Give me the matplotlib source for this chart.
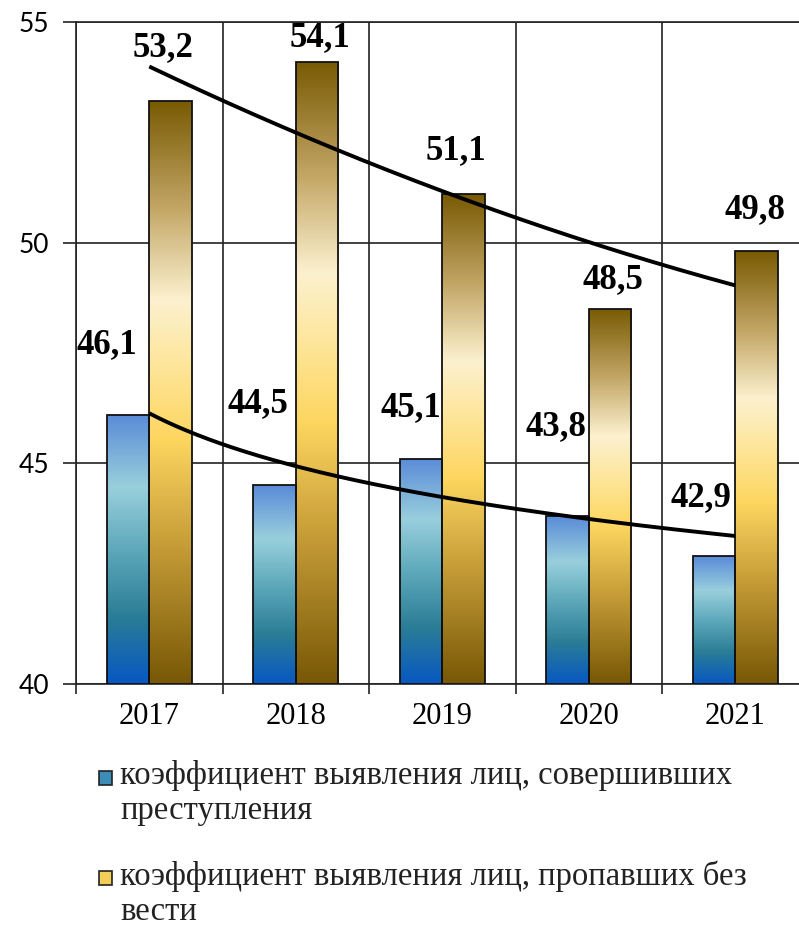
import numpy as np
import matplotlib
matplotlib.use('Agg')
import matplotlib.pyplot as plt
from matplotlib.colors import LinearSegmentedColormap
from matplotlib.patches import Rectangle

years = ['2017', '2018', '2019', '2020', '2021']
crimes = [46.1, 44.5, 45.1, 43.8, 42.9]
missing = [53.2, 54.1, 51.1, 48.5, 49.8]
legend_labels = ['коэффициент выявления лиц, совершивших\nпреступления',
                 'коэффициент выявления лиц, пропавших без\nвести']

# label offsets in pixels (dx, dy) from the bar top, picked by eye
crimes_off = [(-21, -70), (-17, -82), (-10, -51), (-12, -90), (-13, -58)]
missing_off = [(-7, -54), (3, -24), (-8, -44), (3, -29), (-2, -42)]

blue_cmap = LinearSegmentedColormap.from_list('blue', [
    (0.0, '#0758c2'), (0.25, '#2b7d96'), (0.5, '#5ea9bb'),
    (0.73, '#99cfdc'), (1.0, '#5a8bd8')])
gold_cmap = LinearSegmentedColormap.from_list('gold', [
    (0.0, '#785806'), (0.25, '#caa03a'), (0.42, '#fdd660'),
    (0.55, '#fee69c'), (0.66, '#fcf1cf'), (0.82, '#c2a564'), (1.0, '#795a04')])

serif = ['Liberation Serif', 'DejaVu Serif']


def gradient_bar(ax, x, w, top, cmap, bottom=40):
    rect = Rectangle((x, bottom), w, top - bottom, facecolor='none',
                     edgecolor='#111111', lw=1.3, zorder=4)
    ax.add_patch(rect)
    grad = np.linspace(0, 1, 256).reshape(-1, 1)
    im = ax.imshow(grad, cmap=cmap, origin='lower', aspect='auto',
                   extent=[x, x + w, bottom, top], zorder=3, interpolation='bicubic')
    im.set_clip_path(rect)
    return rect


fig = plt.figure(figsize=(7.99, 9.26), dpi=100)
ax = fig.add_axes([76 / 799, (926 - 684) / 926, 732.5 / 799, 662 / 926])

idx = np.arange(len(years))
vidd = 0.29
for i in idx:
    gradient_bar(ax, i - vidd, vidd, crimes[i], blue_cmap)
    gradient_bar(ax, i, vidd, missing[i], gold_cmap)

# trend lines
xs = np.linspace(0, 4, 200)
coef_up = np.polyfit(idx, missing, 2)
ax.plot(xs, np.polyval(coef_up, xs), color='k', lw=2.8, zorder=6, solid_capstyle='butt')
coef_lo = np.polyfit(np.log(idx + 1), crimes, 1)
ax.plot(xs, np.polyval(coef_lo, np.log(xs + 1)), color='k', lw=2.8, zorder=6,
        solid_capstyle='butt')

px = 0.72
for i in idx:
    dx, dy = crimes_off[i]
    ax.annotate(('%.1f' % crimes[i]).replace('.', ','), xy=(i - vidd / 2, crimes[i]),
                xytext=(dx * px, -dy * px), textcoords='offset points',
                ha='center', va='center', fontsize=25, fontweight='bold',
                family=serif, zorder=7)
    dx, dy = missing_off[i]
    ax.annotate(('%.1f' % missing[i]).replace('.', ','), xy=(i + vidd / 2, missing[i]),
                xytext=(dx * px, -dy * px), textcoords='offset points',
                ha='center', va='center', fontsize=25, fontweight='bold',
                family=serif, zorder=7)

ax.set_xlim(-0.5, 4.5)
ax.set_ylim(40, 55)
ax.set_yticks([40, 45, 50, 55])
ax.set_xticks(np.arange(-0.5, 5, 1))
ax.set_xticklabels([])
ax.set_xticks(idx, minor=True)
ax.set_xticklabels(years, minor=True, family=serif, fontsize=22)
ax.tick_params(axis='x', which='major', length=7, width=1.2, color='#222222')
ax.tick_params(axis='x', which='minor', length=0, pad=13)
ax.tick_params(axis='y', length=9.4, width=1.2, color='#222222', pad=10, labelsize=19)
for lab in ax.get_yticklabels():
    lab.set_family('Lato')
ax.grid(True, which='major', color='#222222', lw=1.2, zorder=0)
ax.set_axisbelow(True)
for s in ax.spines.values():
    s.set_color('#222222')
    s.set_linewidth(1.2)

# legend drawn by hand so the square sits on the first line
sq_cols = ['#3c8cb8', '#f2cd58']
rows = [771, 871]
for col, lab, y in zip(sq_cols, legend_labels, rows):
    fig.patches.append(Rectangle((99 / 799, 1 - (y + 14) / 926), 13 / 799, 14 / 926,
                                 transform=fig.transFigure, facecolor=col,
                                 edgecolor='#222222', lw=1.2))
    fig.text(120 / 799, 1 - (y - 11) / 926, lab, family=serif, fontsize=23.5,
             va='top', ha='left', linespacing=1.2, color='#222222')

fig.savefig('out.png', dpi=100)
